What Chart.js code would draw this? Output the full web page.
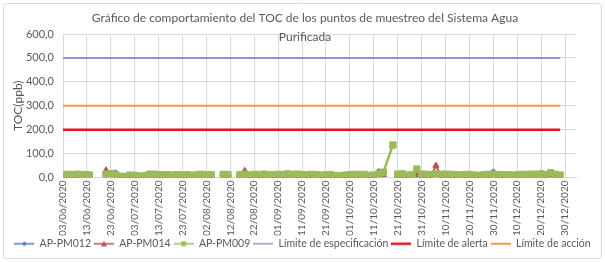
<!DOCTYPE html>
<html><head><meta charset="utf-8">
<script src="https://cdn.jsdelivr.net/npm/chart.js@4.4.1/dist/chart.umd.min.js"></script>
<style>html,body{margin:0;padding:0;background:#fff;}</style>
</head><body>
<canvas id="c" width="605" height="262"></canvas>
<script>
const startDate = '03/06/2020';
const sampleDates = [
 '03/06/2020','05/06/2020','07/06/2020','09/06/2020','10/06/2020',
 '12/06/2020','14/06/2020','16/06/2020',
 '21/06/2020','23/06/2020','25/06/2020','27/06/2020','29/06/2020','01/07/2020','03/07/2020','05/07/2020','07/07/2020','09/07/2020','11/07/2020','13/07/2020','15/07/2020','17/07/2020','19/07/2020','21/07/2020','23/07/2020','25/07/2020','27/07/2020','29/07/2020','31/07/2020','02/08/2020','04/08/2020','06/08/2020',
 '09/08/2020','11/08/2020','13/08/2020',
 '16/08/2020','18/08/2020','20/08/2020','22/08/2020','24/08/2020','26/08/2020','28/08/2020','30/08/2020','01/09/2020','03/09/2020','05/09/2020','07/09/2020','09/09/2020','11/09/2020','13/09/2020','15/09/2020','17/09/2020','19/09/2020','21/09/2020','23/09/2020','25/09/2020','27/09/2020','29/09/2020','01/10/2020','03/10/2020','05/10/2020','07/10/2020','09/10/2020','11/10/2020','13/10/2020','15/10/2020','19/10/2020','20/10/2020',
 '21/10/2020','23/10/2020','25/10/2020','27/10/2020','29/10/2020','31/10/2020','02/11/2020','04/11/2020','06/11/2020','08/11/2020','10/11/2020','12/11/2020','14/11/2020','16/11/2020','18/11/2020','20/11/2020','22/11/2020','24/11/2020','26/11/2020','28/11/2020','30/11/2020','02/12/2020','04/12/2020','06/12/2020','08/12/2020','10/12/2020','12/12/2020','14/12/2020','16/12/2020','18/12/2020','20/12/2020','22/12/2020','24/12/2020','26/12/2020','28/12/2020'
];
const pm012 = [
 8,9,8,9,null,
 7,6,null,
 10,12,20,4,3,8,7,5,6,17,10,9,8,9,8,9,8,9,7,9,10,9,9,null,
 10,9,null,
 9,10,8,9,9,10,9,8,10,9,11,10,10,9,8,9,9,8,8,9,6,5,8,9,10,9,10,7,8,25,20,null,null,
 10,11,8,9,12,10,9,10,14,10,11,10,9,8,9,10,8,7,8,10,24,9,8,9,8,9,10,9,11,10,12,9,14,10,8
];
const pm014 = [
 7,8,7,8,null,
 9,12,null,
 30,14,10,3,3,7,6,4,5,8,9,8,7,8,7,8,7,8,6,8,9,8,8,null,
 8,7,null,
 8,28,9,8,7,8,7,6,8,7,9,8,8,7,6,7,7,6,6,7,5,4,6,7,8,7,8,6,7,9,10,null,null,
 7,6,5,6,12,7,6,8,50,9,8,7,6,7,6,7,6,5,6,7,9,7,6,7,6,7,8,7,8,7,9,7,10,8,6
];
const pm009 = [
 12,13,12,14,null,
 12,10,null,
 14,16,12,5,4,10,9,6,7,12,14,12,11,12,10,12,11,12,9,12,13,11,12,null,
 13,12,null,
 12,14,10,13,12,14,12,11,13,12,15,13,14,12,11,13,12,10,11,12,8,7,10,12,13,12,13,9,10,16,22,136,null,
 14,15,10,12,35,14,13,12,15,13,14,13,12,11,12,13,10,9,11,13,14,12,11,12,10,11,13,12,14,13,15,12,20,13,10
];
const limitDates = ['03/06/2020','28/12/2020'];
const limEspecificacion = [500,500];
const limAlerta = [200,200];
const limAccion = [300,300];
const yMin = 0, yMax = 600, yStep = 100;
const xStepDays = 10;

function dayOffset(s){
  const p = s.split('/'), q = startDate.split('/');
  return (Date.UTC(+p[2],+p[1]-1,+p[0]) - Date.UTC(+q[2],+q[1]-1,+q[0]))/86400000;
}
function fmtDay(v){
  const q = startDate.split('/');
  const d = new Date(Date.UTC(+q[2],+q[1]-1,+q[0]) + v*86400000);
  const dd = String(d.getUTCDate()).padStart(2,'0'), mm = String(d.getUTCMonth()+1).padStart(2,'0');
  return dd+'/'+mm+'/'+d.getUTCFullYear();
}
function pts(dates, vals){ return dates.map((d,i)=>({x:dayOffset(d), y:vals[i]})); }

const FONT = 'Lato';
const TXT = '#595959';

function icon(color, style, lw, r){
  const c = document.createElement('canvas'); c.width = 20; c.height = 10;
  const g = c.getContext('2d');
  g.strokeStyle = color; g.lineWidth = lw; g.beginPath(); g.moveTo(0,5); g.lineTo(20,5); g.stroke();
  g.fillStyle = color;
  if (style==='rectRot'){ g.beginPath(); g.moveTo(10,5-r); g.lineTo(10+r,5); g.lineTo(10,5+r); g.lineTo(10-r,5); g.closePath(); g.fill(); }
  else if (style==='triangle'){ g.beginPath(); g.moveTo(10,5-r); g.lineTo(10+r,5+r*0.8); g.lineTo(10-r,5+r*0.8); g.closePath(); g.fill(); }
  else if (style==='rect'){ g.fillRect(10-r,5-r,2*r,2*r); }
  return c;
}
const icons = [
  icon('#4F81BD','rectRot',1.5,2.5),
  icon('#C0504D','triangle',1.5,3),
  icon('#9BBB59','rect',1.5,2.5),
  icon('#9490D2',null,1.5,0),
  icon('#E8141C',null,2.5,0),
  icon('#F79646',null,2,0)
];

const bgPlugin = {
  id:'bg',
  beforeDraw(chart){
    const ctx = chart.ctx; ctx.save();
    ctx.fillStyle = '#fff'; ctx.fillRect(0,0,chart.width,chart.height);
    ctx.strokeStyle = '#D9D9D9'; ctx.lineWidth = 1;
    ctx.beginPath(); ctx.roundRect(3.5,3.5,chart.width-7,chart.height-7,3); ctx.stroke();
    ctx.restore();
  },
  afterDraw(chart){
    const ctx = chart.ctx; ctx.save();
    ctx.fillStyle = TXT; ctx.font = '12px '+FONT; ctx.textAlign = 'center'; ctx.textBaseline = 'middle';
    ctx.fillText('Gráfico de comportamiento del TOC de los puntos de muestreo del Sistema Agua', 305, 18);
    ctx.fillText('Purificada', 305, 37);
    ctx.restore();
  }
};

new Chart(document.getElementById('c'), {
  type:'line',
  data:{ datasets:[
    {label:'AP-PM012', data:pts(sampleDates,pm012), borderColor:'#4F81BD', backgroundColor:'#4F81BD', borderWidth:2, pointStyle:'rectRot', pointRadius:3, pointBorderWidth:1, order:3},
    {label:'AP-PM014', data:pts(sampleDates,pm014), borderColor:'#C0504D', backgroundColor:'#C0504D', borderWidth:2, pointStyle:'triangle', pointRadius:3.5, pointBorderWidth:1, order:2},
    {label:'AP-PM009', data:pts(sampleDates,pm009), borderColor:'#9BBB59', backgroundColor:'#9BBB59', borderWidth:2.5, pointStyle:'rect', pointRadius:4.5, pointBorderWidth:1, order:1},
    {label:'Límite de especificación', data:pts(limitDates,limEspecificacion), borderColor:'#9490D2', borderWidth:2, pointRadius:0, order:4},
    {label:'Límite de alerta', data:pts(limitDates,limAlerta), borderColor:'#E8141C', borderWidth:2.5, pointRadius:0, order:5},
    {label:'Límite de acción', data:pts(limitDates,limAccion), borderColor:'#F79646', borderWidth:2, pointRadius:0, order:6}
  ]},
  options:{
    responsive:false, animation:false, spanGaps:false,
    layout:{padding:{left:0, right:0, top:34, bottom:3}},
    plugins:{
      tooltip:{enabled:false},
      legend:{position:'bottom', labels:{
        usePointStyle:true, pointStyleWidth:20, boxHeight:10, padding:3, color:TXT, font:{family:FONT,size:10.5},
        sort:(a,b)=>a.datasetIndex-b.datasetIndex,
        generateLabels(chart){
          const items = Chart.defaults.plugins.legend.labels.generateLabels(chart);
          items.forEach(it=>{ it.pointStyle = icons[it.datasetIndex]; });
          return items;
        }
      }}
    },
    scales:{
      x:{type:'linear', min:0, max:214.6,
        afterFit(s){ s.height = 58; },
        grid:{color:'#D9D9D9', drawTicks:false},
        border:{color:'#D9D9D9'},
        ticks:{stepSize:xStepDays, includeBounds:false, autoSkip:false, maxRotation:90, minRotation:90, padding:3, color:TXT, font:{family:FONT,size:10},
          callback:(v)=> (v%xStepDays===0 && v<=210) ? fmtDay(v) : ''}
      },
      y:{min:yMin, max:yMax,
        afterFit(s){ s.width = 63; },
        grid:{color:'#D9D9D9', drawTicks:false},
        border:{display:false},
        title:{display:true, text:'TOC(ppb)', color:TXT, font:{family:FONT,size:12}, padding:{top:11,bottom:0}},
        ticks:{stepSize:yStep, padding:9, color:TXT, font:{family:FONT,size:11},
          callback:(v)=> v.toFixed(1).replace('.',',')}
      },
      yR:{position:'right', display:true,
        afterFit(s){ s.width = 29; },
        grid:{display:false}, border:{display:false}, ticks:{display:false}}
    }
  },
  plugins:[bgPlugin]
});
</script>
</body></html>
